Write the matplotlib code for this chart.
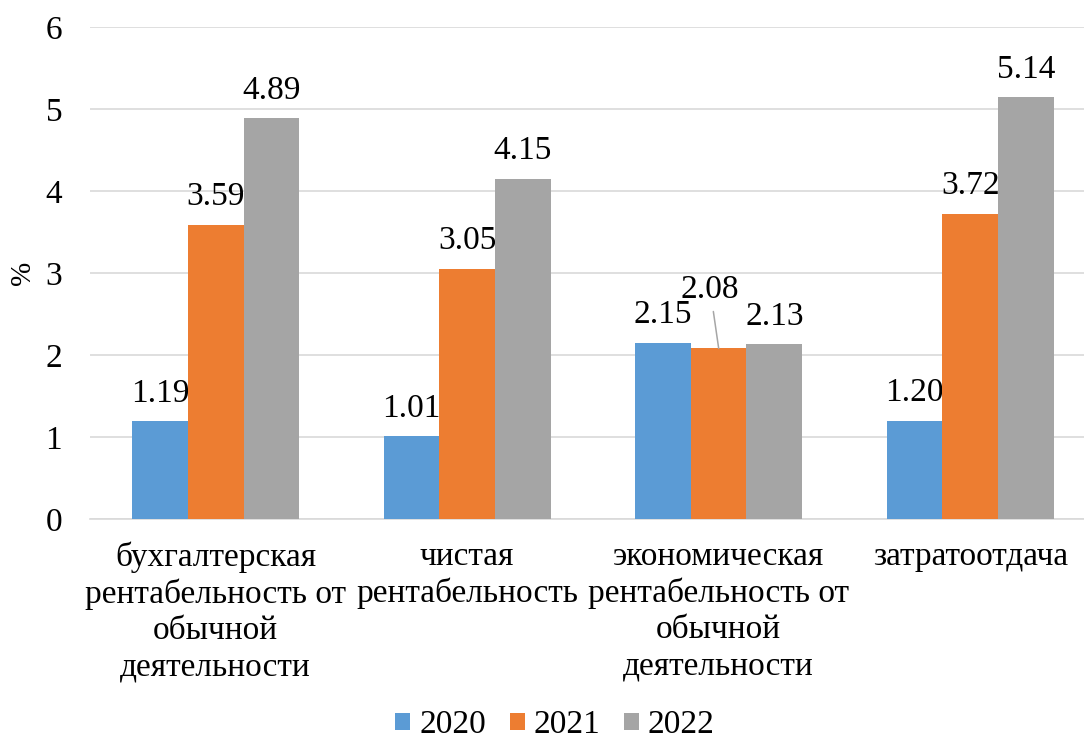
import matplotlib.pyplot as plt
import numpy as np

plt.rcParams['font.family'] = ['Liberation Serif', 'DejaVu Serif']

categories = ['бухгалтерская\nрентабельность от\nобычной\nдеятельности',
              'чистая\nрентабельность',
              'экономическая\nрентабельность от\nобычной\nдеятельности',
              'затратоотдача']
years = ['2020', '2021', '2022']
v2020 = [1.19, 1.01, 2.15, 1.20]
v2021 = [3.59, 3.05, 2.08, 3.72]
v2022 = [4.89, 4.15, 2.13, 5.14]
colors = ['#5B9BD5', '#ED7D31', '#A5A5A5']

fig = plt.figure(figsize=(10.84, 7.40), dpi=100)
ax = fig.add_axes([0.083, 0.2986, 0.928, 0.665])

x = np.arange(len(categories))
w = 0.221
series = [v2020, v2021, v2022]
for i, (vals, c, lab) in enumerate(zip(series, colors, years)):
    pos = x + (i - 1) * w
    ax.bar(pos, vals, w, color=c, label=lab, zorder=3)
    for j, (px, v) in enumerate(zip(pos, vals)):
        if i == 1 and j == 2:
            # label lifted with a leader line
            ax.annotate(f'{v:.2f}', xy=(px, v), xytext=(px - 0.034, v + 0.62),
                        ha='center', va='baseline', fontsize=24,
                        arrowprops=dict(arrowstyle='-', color='#A6A6A6', lw=1.1,
                                        shrinkA=3, shrinkB=0))
        else:
            ax.annotate(f'{v:.2f}', (px, v), xytext=(0, 14), textcoords='offset points',
                        ha='center', va='baseline', fontsize=24)

ax.set_xlim(-0.5, 3.5)
ax.set_ylim(0, 6)
ax.set_yticks(range(7))
ax.set_xticks(x)
ax.set_xticklabels(categories, fontsize=24, linespacing=1.24)
ax.tick_params(axis='y', labelsize=24, length=0, pad=20)
ax.tick_params(axis='x', length=0, pad=16)
ax.grid(axis='y', color='#D9D9D9', lw=1.2, zorder=0)
for s in ['top', 'right', 'left']:
    ax.spines[s].set_visible(False)
ax.spines['bottom'].set_color('#D9D9D9')
ax.spines['bottom'].set_linewidth(1.2)
ax.set_ylabel('%', fontsize=21, labelpad=7)

fig.legend(loc='lower center', bbox_to_anchor=(0.512, -0.041), ncol=3, frameon=False,
           fontsize=24, handlelength=0.45, handleheight=0.45, handletextpad=0.27,
           columnspacing=0.7)

fig.savefig('out.png', dpi=100)
